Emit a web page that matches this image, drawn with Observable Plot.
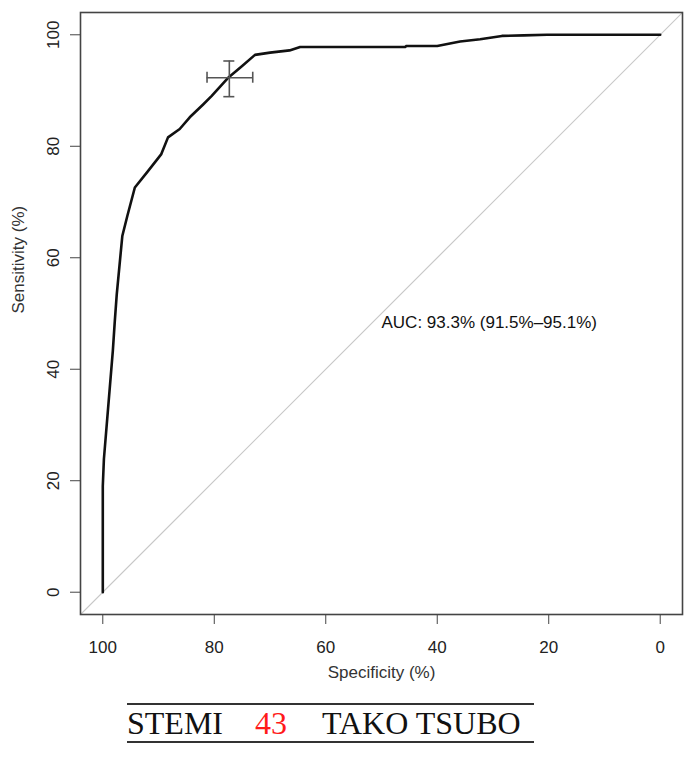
<!DOCTYPE html>
<html>
<head>
<meta charset="utf-8">
<script src="https://cdn.jsdelivr.net/npm/d3@7"></script>
<script src="https://cdn.jsdelivr.net/npm/@observablehq/plot@0.6"></script>
<style>
  html, body { margin: 0; padding: 0; background: #fff; }
  #chart svg { display: block; }
  .cap {
    margin-left: 127px;
    margin-top: 8px;
    width: 407px;
    box-sizing: border-box;
    border-top: 2px solid #333;
    border-bottom: 2px solid #333;
    font-family: "Liberation Serif", "Times New Roman", "DejaVu Serif", serif;
    font-size: 32px;
    line-height: 36px;
    color: #111;
    white-space: nowrap;
  }
  .cap .red { color: #ff1a1a; margin: 0 35px 0 32px; }
</style>
</head>
<body>
<div id="chart"></div>
<div class="cap"><span>STEMI</span><span class="red">43</span><span>TAKO TSUBO</span></div>
<script>
// ROC curve (percent)
const specificity = [100, 100, 99.8, 99.2, 98.2, 97.85, 97.5, 96.5, 95.6, 94.25, 92, 89.5, 88.3, 86.2, 84.4, 82.0, 80.5, 77.4, 75, 72.7, 70, 66.5, 64.6, 45.8, 45.5, 40, 35.9, 32.3, 28.4, 24.5, 20.3, 0];
const sensitivity = [0, 19, 23.9, 31.2, 43.3, 48.6, 53.4, 63.9, 67.5, 72.6, 75.4, 78.6, 81.6, 83.1, 85.2, 87.5, 89.0, 92.4, 94.4, 96.4, 96.8, 97.2, 97.8, 97.8, 98.0, 98.0, 98.8, 99.2, 99.8, 99.9, 100, 100];

// best threshold with confidence intervals
const thrSpec = [77.3], thrSpecLo = [81.3], thrSpecHi = [73.1];
const thrSens = [92.3], thrSensLo = [88.9], thrSensHi = [95.3];

const xTicks = [100, 80, 60, 40, 20, 0];
const yTicks = [0, 20, 40, 60, 80, 100];
const xDomain = [104, -4];
const yDomain = [-4, 104];

const aucText = ["AUC: 93.3% (91.5%–95.1%)"];
const aucSpec = [50], aucSens = [48.3];

const xTitle = "Specificity (%)";
const yTitle = "Sensitivity (%)";

const curve = specificity.map((s, i) => ({spec: s, sens: sensitivity[i]}));
const thr = thrSpec.map((s, i) => ({spec: s, specLo: thrSpecLo[i], specHi: thrSpecHi[i], sens: thrSens[i], sensLo: thrSensLo[i], sensHi: thrSensHi[i]}));
const diag = xDomain.map(x => ({x, y: 100 - x}));
const auc = aucText.map((t, i) => ({t, spec: aucSpec[i], sens: aucSens[i]}));

const chart = Plot.plot({
  width: 694,
  height: 695,
  marginLeft: 80,
  marginRight: 12,
  marginTop: 12,
  marginBottom: 81,
  x: {domain: xDomain, axis: null},
  y: {domain: yDomain, axis: null},
  style: {fontFamily: "'Liberation Sans', Arial, Helvetica, sans-serif", fontSize: "17px", color: "#333", background: "#fff", overflow: "visible"},
  marks: [
    Plot.line(diag, {x: "x", y: "y", stroke: "#c8c8c8", strokeWidth: 1.2, clip: true}),
    Plot.line(curve, {x: "spec", y: "sens", stroke: "#111", strokeWidth: 2.6, strokeLinejoin: "round"}),
    Plot.ruleY(thr, {y: "sens", x1: "specLo", x2: "specHi", stroke: "#555", strokeWidth: 1.6}),
    Plot.ruleX(thr, {x: "spec", y1: "sensLo", y2: "sensHi", stroke: "#555", strokeWidth: 1.6}),
    Plot.ruleX(thr, {x: "specLo", y1: "sens", y2: "sens", insetTop: -5.5, insetBottom: -5.5, stroke: "#555", strokeWidth: 1.6}),
    Plot.ruleX(thr, {x: "specHi", y1: "sens", y2: "sens", insetTop: -5.5, insetBottom: -5.5, stroke: "#555", strokeWidth: 1.6}),
    Plot.ruleY(thr, {y: "sensLo", x1: "spec", x2: "spec", insetLeft: -5.5, insetRight: -5.5, stroke: "#555", strokeWidth: 1.6}),
    Plot.ruleY(thr, {y: "sensHi", x1: "spec", x2: "spec", insetLeft: -5.5, insetRight: -5.5, stroke: "#555", strokeWidth: 1.6}),
    Plot.text(auc, {x: "spec", y: "sens", text: "t", textAnchor: "start", fontSize: 17, fill: "#111"}),
    Plot.frame({stroke: "#444", strokeWidth: 1.6}),
    Plot.axisX({ticks: xTicks, tickSize: 10, tickPadding: 16, label: null, fontSize: 17, stroke: "#444", fill: "#222", tickFormat: d => String(d)}),
    Plot.axisY({ticks: yTicks, tickSize: 10, tickRotate: -90, tickPadding: 12, label: null, fontSize: 17, stroke: "#444", fill: "#222", tickFormat: d => String(d)}),
    Plot.text([xTitle], {frameAnchor: "bottom", dy: 63, fontSize: 17, fill: "#333"}),
    Plot.text([yTitle], {frameAnchor: "left", dx: -62, rotate: -90, fontSize: 17, fill: "#333"})
  ]
});
document.getElementById("chart").appendChild(chart);
</script>
</body>
</html>
